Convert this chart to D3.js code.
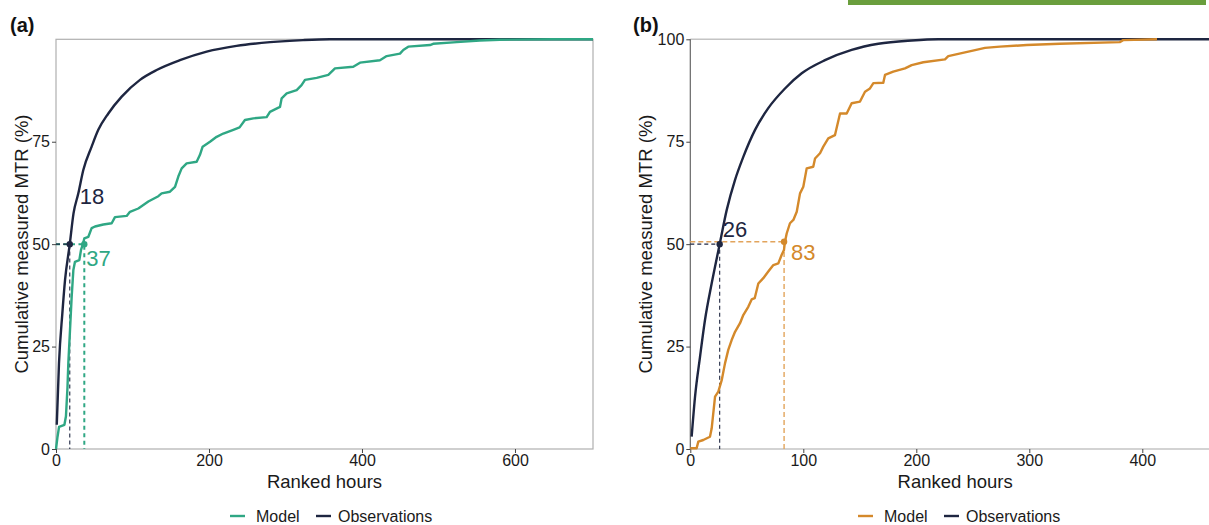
<!DOCTYPE html>
<html><head><meta charset="utf-8">
<script src="https://cdn.jsdelivr.net/npm/d3@7"></script>
<style>
body{margin:0;background:#fff;}
svg{display:block;font-family:"Liberation Sans",Arial,sans-serif;}
</style></head>
<body><svg id="c" width="1209" height="525"></svg>
<script>
// ---------- data ----------
const panelLabels = ["(a)", "(b)"];
const seriesNames = ["Model", "Observations"];
const xTicksA = [0, 200, 400, 600];
const xTicksB = [0, 100, 200, 300, 400];
const yTicksA = [0, 25, 50, 75];
const yTicksB = [0, 25, 50, 75, 100];
const xMaxA = 702, xMaxB = 460;

// [ranked hour, cumulative %]
const obsA = [[1,5.9],[3.9,20.9],[8.3,33.1],[11.8,41.2],[18,50],[22.9,57.5],[29.2,62.4],[35.7,68.1],[46.6,73.8],[55.3,77.9],[68.4,81.9],[85.9,86.0],[109.8,90.1],[131.6,92.5],[162,94.9],[197,97.0],[236,98.4],[280,99.3],[323,99.8],[358,100],[702,100]];
const modelA = [[0,0],[2,3],[4,5.4],[11,5.9],[13,8],[15,15],[16.1,20.9],[18.3,29],[20.5,37.2],[22.7,43.7],[24.8,45.7],[30.5,46.1],[32.7,48.6],[35.5,50.2],[37,51.4],[42.3,51.8],[46.6,53.9],[51,54.3],[61.9,54.8],[72.8,55.1],[77.1,56.6],[92.4,56.9],[96.7,57.9],[107.6,58.7],[120.7,60.4],[133.8,61.7],[138.1,62.4],[149,62.8],[155.6,64.0],[159.9,66.5],[164.3,68.5],[170.8,69.7],[183.9,70.1],[188.2,71.8],[191.7,73.8],[201.3,75.0],[210,76.2],[218.7,77.0],[231.8,77.9],[240,78.5],[247,80.3],[258,80.7],[275.4,81.0],[279.7,82.3],[292.8,83.5],[295,85.6],[301.6,86.8],[314.6,87.6],[321,88.8],[325.5,90.1],[340.8,90.6],[356,91.3],[364.7,92.9],[388.6,93.3],[397.4,94.3],[423.5,94.9],[432.3,95.9],[449.7,96.5],[454,97.4],[460.5,98.2],[488.9,98.6],[493,98.9],[523.8,99.3],[554,99.7],[580,99.9],[650,100],[702,100]];
const obsB = [[1.2,3],[4.2,12.8],[8.6,22.5],[13,31.5],[18.9,40.4],[26,50],[32.2,58.3],[39.6,65.7],[46.9,71.3],[57.3,77.9],[69,83.2],[83.8,88.0],[98.6,91.7],[119.2,94.9],[142.8,97.4],[166.4,98.9],[195.9,99.7],[219.5,100],[460,100]];
const modelB = [[0,0.2],[5.6,0.2],[7.1,1.8],[11.5,2.2],[17.4,3.0],[18.9,5.0],[21.9,12.8],[24.8,14.0],[27.8,16.8],[30.7,20.9],[33.6,24.2],[36.6,26.6],[39.6,28.6],[44,30.7],[46.9,32.7],[51.3,34.7],[54.3,36.5],[57,36.8],[60.2,40.4],[64.6,41.7],[69,43.3],[73.5,44.9],[77.9,45.3],[80.9,47.4],[82.9,48.6],[83.8,50.6],[85.3,52.6],[88.2,55.1],[91.2,55.9],[94.2,57.9],[97.1,62.4],[100,64.0],[103,68.5],[108.8,68.9],[110.4,70.9],[114.8,72.2],[117.7,73.8],[122.1,75.8],[128,76.6],[132.5,81.9],[138.4,81.9],[142.8,84.4],[150.2,84.8],[154.6,87.2],[159,88.0],[162,89.3],[170.8,89.4],[172.3,91.3],[179.6,92.1],[190,92.9],[195.9,93.7],[206.2,94.4],[225.4,95.1],[228.3,95.9],[243.1,96.8],[253,97.4],[260.8,97.9],[274,98.2],[297.7,98.6],[327,98.9],[380,99.3],[383,99.8],[413,100]];
// medians: [hours, %] for obs and model
const medianA = {obs:[18,50], model:[37,50]};
const medianB = {obs:[26,50], model:[83,50.6]};

const colObs = "#1e2641", colA = "#2fa784", colB = "#d4892b", colBdash = "#e2a45c";

const svg = d3.select("#c");
// green bar at top right
svg.append("rect").attr("x",848).attr("y",0).attr("width",358).attr("height",5).attr("fill","#6a9e3d");

function panel(opt){
  const x = d3.scaleLinear().domain([0,opt.xMax]).range([opt.x0,opt.x1]);
  const y = d3.scaleLinear().domain([0,100]).range([449,39.3]);
  const g = svg.append("g");
  const clipId = "clip"+opt.id;
  svg.append("clipPath").attr("id",clipId).append("rect")
    .attr("x",opt.x0-2).attr("y",30).attr("width",opt.x1-opt.x0+4).attr("height",425);

  // frame
  if(opt.border){
    g.append("rect").attr("x",opt.x0).attr("y",y(100)).attr("width",opt.x1-opt.x0).attr("height",y(0)-y(100))
      .attr("fill","none").attr("stroke","#b0b0b0").attr("stroke-width",1.2);
  } else {
    g.append("line").attr("x1",opt.x0).attr("x2",1209).attr("y1",y(100)).attr("y2",y(100)).attr("stroke","#c4c4c4").attr("stroke-width",1.5);
    g.append("line").attr("x1",opt.x0).attr("x2",1209).attr("y1",y(0)).attr("y2",y(0)).attr("stroke","#a8a8a8").attr("stroke-width",1.2);
    g.append("line").attr("x1",opt.x0).attr("x2",opt.x0).attr("y1",y(0)).attr("y2",y(100)).attr("stroke","#666").attr("stroke-width",1.2);
  }
  // axes
  const ax = g.append("g").attr("transform",`translate(0,${y(0)})`)
    .call(d3.axisBottom(x).tickValues(opt.xTicks).tickSize(4).tickPadding(2).tickFormat(d3.format("d")));
  const ay = g.append("g").attr("transform",`translate(${opt.x0},0)`)
    .call(d3.axisLeft(y).tickValues(opt.yTicks).tickSize(4).tickPadding(2).tickFormat(d3.format("d")));
  [ax,ay].forEach(a=>{
    a.select(".domain").remove();
    a.selectAll(".tick line").attr("stroke","#444");
    a.selectAll(".tick text").attr("fill","#1a1a1a").style("font-size","16px").style("font-family","Liberation Sans, Arial, sans-serif");
  });
  // titles
  g.append("text").attr("x",(opt.x0+opt.titleRight)/2).attr("y",488).attr("text-anchor","middle")
    .style("font-size","18.5px").attr("fill","#1a1a1a").text("Ranked hours");
  g.append("text").attr("transform",`translate(${opt.ytitleX},244) rotate(-90)`).attr("text-anchor","middle")
    .style("font-size","18.5px").attr("fill","#1a1a1a").text("Cumulative measured MTR (%)");
  g.append("text").attr("x",opt.labelX).attr("y",32).style("font-size","20px").style("font-weight","bold")
    .attr("fill","#111").text(opt.label);

  const cg = g.append("g").attr("clip-path",`url(#${clipId})`);
  // dashed median guides
  const mo = opt.median.obs, mm = opt.median.model;
  cg.append("path").attr("d",`M${opt.x0},${y(mm[1])}H${x(mm[0])}V${y(0)}`)
    .attr("fill","none").attr("stroke",opt.dashCol).attr("stroke-width",opt.dashW).attr("stroke-dasharray",opt.dashPat);
  cg.append("path").attr("d",`M${opt.x0},${y(mo[1])}H${x(mo[0])}V${y(0)}`)
    .attr("fill","none").attr("stroke",colObs).attr("stroke-width",1.1).attr("stroke-dasharray","4,3");

  const lineS = d3.line().x(d=>x(d[0])).y(d=>y(d[1])).curve(d3.curveMonotoneX);
  const lineL = d3.line().x(d=>x(d[0])).y(d=>y(d[1]));
  cg.append("path").datum(opt.obs).attr("d",lineS).attr("fill","none").attr("stroke",colObs).attr("stroke-width",2.4);
  cg.append("path").datum(opt.model).attr("d",lineL).attr("fill","none").attr("stroke",opt.col).attr("stroke-width",2.4).attr("stroke-linejoin","round");

  cg.append("circle").attr("cx",x(mo[0])).attr("cy",y(mo[1])).attr("r",3.2).attr("fill",colObs);
  cg.append("circle").attr("cx",x(mm[0])).attr("cy",y(mm[1])).attr("r",3.2).attr("fill",opt.col);

  g.append("text").attr("x",x(mo[0])+opt.obsLbl[0]).attr("y",y(mo[1])+opt.obsLbl[1]).style("font-size","22px").attr("fill",colObs).text(mo[0]);
  g.append("text").attr("x",x(mm[0])+opt.modLbl[0]).attr("y",y(mm[1])+opt.modLbl[1]).style("font-size","22px").attr("fill",opt.col).text(mm[0]);

  // legend
  const lg = g.append("g");
  lg.append("line").attr("x1",opt.leg).attr("x2",opt.leg+15).attr("y1",516).attr("y2",516).attr("stroke",opt.col).attr("stroke-width",2.4);
  lg.append("text").attr("x",opt.leg+26).attr("y",522).style("font-size","16px").attr("fill","#1a1a1a").text(seriesNames[0]);
  lg.append("line").attr("x1",opt.leg+86).attr("x2",opt.leg+101).attr("y1",516).attr("y2",516).attr("stroke",colObs).attr("stroke-width",2.4);
  lg.append("text").attr("x",opt.leg+108).attr("y",522).style("font-size","16px").attr("fill","#1a1a1a").text(seriesNames[1]);
}

panel({id:"a",x0:56,x1:593,xMax:xMaxA,xTicks:xTicksA,yTicks:yTicksA,border:true,obs:obsA,model:modelA,col:colA,
  dashCol:colA,dashW:2,dashPat:"4,3.5",median:medianA,obsLbl:[10,-40],modLbl:[2,22],leg:230,label:panelLabels[0],
  labelX:10,ytitleX:28,titleRight:593});
panel({id:"b",x0:690.3,x1:690.3+1.13*xMaxB,xMax:xMaxB,xTicks:xTicksB,yTicks:yTicksB,border:false,obs:obsB,model:modelB,col:colB,
  dashCol:colBdash,dashW:1.4,dashPat:"5,3",median:medianB,obsLbl:[3,-7],modLbl:[7,18],leg:858,label:panelLabels[1],
  labelX:633,ytitleX:652,titleRight:1220});
</script></body></html>
